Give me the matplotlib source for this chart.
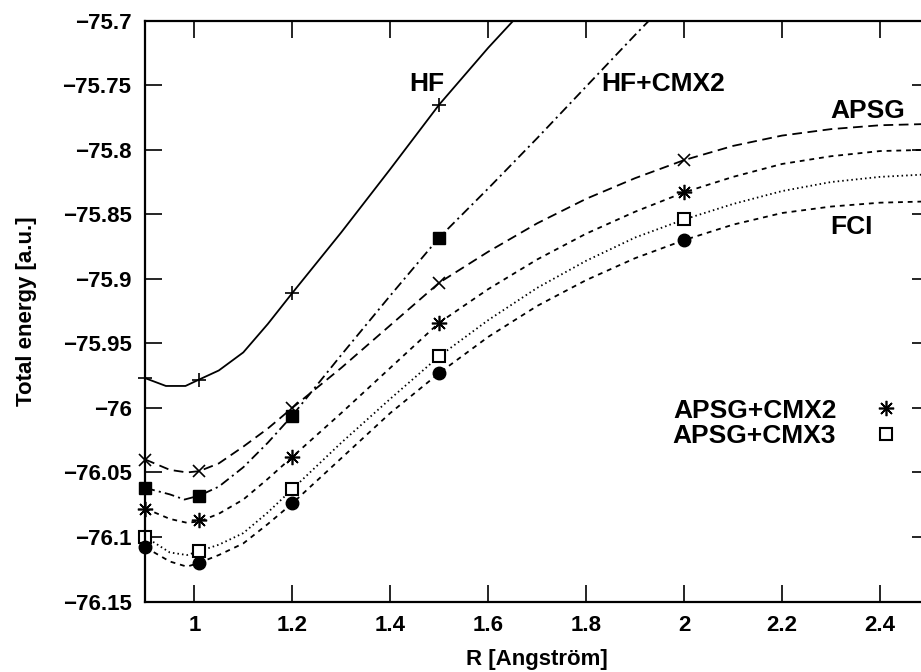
import numpy as np
import matplotlib
matplotlib.use("Agg")
import matplotlib.pyplot as plt
from matplotlib.ticker import FuncFormatter

plt.rcParams['font.family'] = ['Liberation Sans', 'DejaVu Sans']
plt.rcParams['font.weight'] = 'bold'
plt.rcParams['lines.scale_dashes'] = False

# computed points (markers); nan = outside the plotted range
r_pts = [0.9, 1.01, 1.2, 1.5, 2.0]
hf_pts = [-75.977, -75.978, -75.911, -75.765, np.nan]
hfcmx2_pts = [-76.062, -76.068, -76.006, -75.868, np.nan]
apsg_pts = [-76.040, -76.049, -76.000, -75.903, -75.808]
apsgcmx2_pts = [-76.078, -76.087, -76.038, -75.934, -75.833]
apsgcmx3_pts = [-76.100, -76.111, -76.063, -75.960, -75.854]
fci_pts = [-76.108, -76.120, -76.074, -75.973, -75.870]

# smooth curves
hf_r = [0.9, 0.942, 0.982, 1.01, 1.05, 1.1, 1.15, 1.2, 1.3, 1.4, 1.5, 1.6, 1.7]
hf_e = [-75.977, -75.983, -75.983, -75.978, -75.971, -75.957, -75.935, -75.911,
        -75.864, -75.815, -75.765, -75.721, -75.68]

hfcmx2_r = [0.9, 0.95, 0.98, 1.01, 1.05, 1.1, 1.15, 1.2, 1.3, 1.4, 1.5, 1.6,
            1.7, 1.8, 1.9, 2.0]
hfcmx2_e = [-76.062, -76.067, -76.071, -76.068, -76.061, -76.046, -76.027,
            -76.006, -75.959, -75.913, -75.868, -75.830, -75.791, -75.751,
            -75.711, -75.672]

curve_r = [0.9, 0.95, 0.985, 1.01, 1.05, 1.1, 1.15, 1.2, 1.3, 1.4, 1.5, 1.6,
           1.7, 1.8, 1.9, 2.0, 2.1, 2.2, 2.3, 2.4, 2.5]
apsg_e = [-76.040, -76.048, -76.050, -76.049, -76.043, -76.030, -76.016,
          -76.000, -75.969, -75.936, -75.903, -75.879, -75.857, -75.838,
          -75.822, -75.808, -75.797, -75.789, -75.784, -75.781, -75.780]
apsgcmx2_e = [-76.078, -76.086, -76.089, -76.088, -76.082, -76.071, -76.055,
              -76.038, -76.004, -75.969, -75.934, -75.908, -75.885, -75.865,
              -75.848, -75.833, -75.821, -75.811, -75.805, -75.801, -75.800]
apsgcmx3_e = [-76.100, -76.112, -76.114, -76.111, -76.106, -76.097, -76.081,
              -76.063, -76.027, -75.993, -75.960, -75.932, -75.907, -75.886,
              -75.868, -75.854, -75.842, -75.832, -75.825, -75.821, -75.819]
fci_e = [-76.108, -76.119, -76.123, -76.120, -76.114, -76.105, -76.090,
         -76.074, -76.039, -76.004, -75.973, -75.945, -75.921, -75.901,
         -75.884, -75.870, -75.858, -75.849, -75.844, -75.841, -75.840]

x_ticks = [1.0, 1.2, 1.4, 1.6, 1.8, 2.0, 2.2, 2.4]
y_ticks = [-75.7, -75.75, -75.8, -75.85, -75.9, -75.95, -76.0, -76.05, -76.1, -76.15]

fig = plt.figure(figsize=(9.21, 6.72), dpi=100)
ax = fig.add_axes([0.1578, 0.1049, 0.8509, 0.8643])

lw = 1.3
ax.plot(hf_r, hf_e, color='black', lw=lw, ls='-')
ax.plot(hfcmx2_r, hfcmx2_e, color='black', lw=lw, dashes=(7, 3, 1.5, 3))
ax.plot(curve_r, apsg_e, color='black', lw=lw, dashes=(7, 4))
ax.plot(curve_r, apsgcmx2_e, color='black', lw=lw, dashes=(3.5, 3.5))
ax.plot(curve_r, apsgcmx3_e, color='black', lw=lw, dashes=(1.1, 2.2))
ax.plot(curve_r, fci_e, color='black', lw=lw, dashes=(3.5, 3.5))

ax.plot(r_pts, hf_pts, ls='none', marker='+', ms=10, mew=1.2, color='black', clip_on=False)
ax.plot(r_pts, hfcmx2_pts, ls='none', marker='s', ms=9, color='black', clip_on=False)
ax.plot(r_pts, apsg_pts, ls='none', marker='x', ms=9, mew=1.2, color='black', clip_on=False)
m2, = ax.plot(r_pts, apsgcmx2_pts, ls='none', marker=(8, 2, 0), ms=11, mew=1.2,
              color='black', label='APSG+CMX2', clip_on=False)
m3, = ax.plot(r_pts, apsgcmx3_pts, ls='none', marker='s', ms=9, mew=1.5,
              mfc='white', mec='black', label='APSG+CMX3', clip_on=False)
ax.plot(r_pts, fci_pts, ls='none', marker='o', ms=9, color='black', clip_on=False)

ax.text(1.475, -75.749, 'HF', fontsize=19, fontweight='bold', ha='center', va='center')
ax.text(1.957, -75.749, 'HF+CMX2', fontsize=19, fontweight='bold', ha='center', va='center')
ax.text(2.375, -75.770, 'APSG', fontsize=19, fontweight='bold', ha='center', va='center')
ax.text(2.342, -75.860, 'FCI', fontsize=19, fontweight='bold', ha='center', va='center')

leg = ax.legend(handles=[m2, m3], loc='center right', bbox_to_anchor=(0.976, 0.307),
                frameon=False, markerfirst=False, fontsize=19, handlelength=1.0,
                handletextpad=1.4, labelspacing=0.05, borderaxespad=0)
for t in leg.get_texts():
    t.set_fontweight('bold')

ax.set_xlim(0.9, 2.5)
ax.set_ylim(-76.15, -75.7)
ax.set_xticks(x_ticks)
ax.set_yticks(y_ticks)
fmt = FuncFormatter(lambda v, p: ('%g' % v).replace('-', '\u2212'))
ax.xaxis.set_major_formatter(fmt)
ax.yaxis.set_major_formatter(fmt)
ax.tick_params(direction='in', length=12, width=1.2, top=True, right=True,
               labelsize=16, pad=10)
for lab in ax.get_xticklabels() + ax.get_yticklabels():
    lab.set_fontweight('bold')
for s in ax.spines.values():
    s.set_linewidth(1.6)

ax.set_xlabel('R [Angström]', fontsize=16, fontweight='bold', labelpad=9)
ax.set_ylabel('Total energy [a.u.]', fontsize=16, fontweight='bold', labelpad=18)

fig.savefig('out.png', dpi=100)
